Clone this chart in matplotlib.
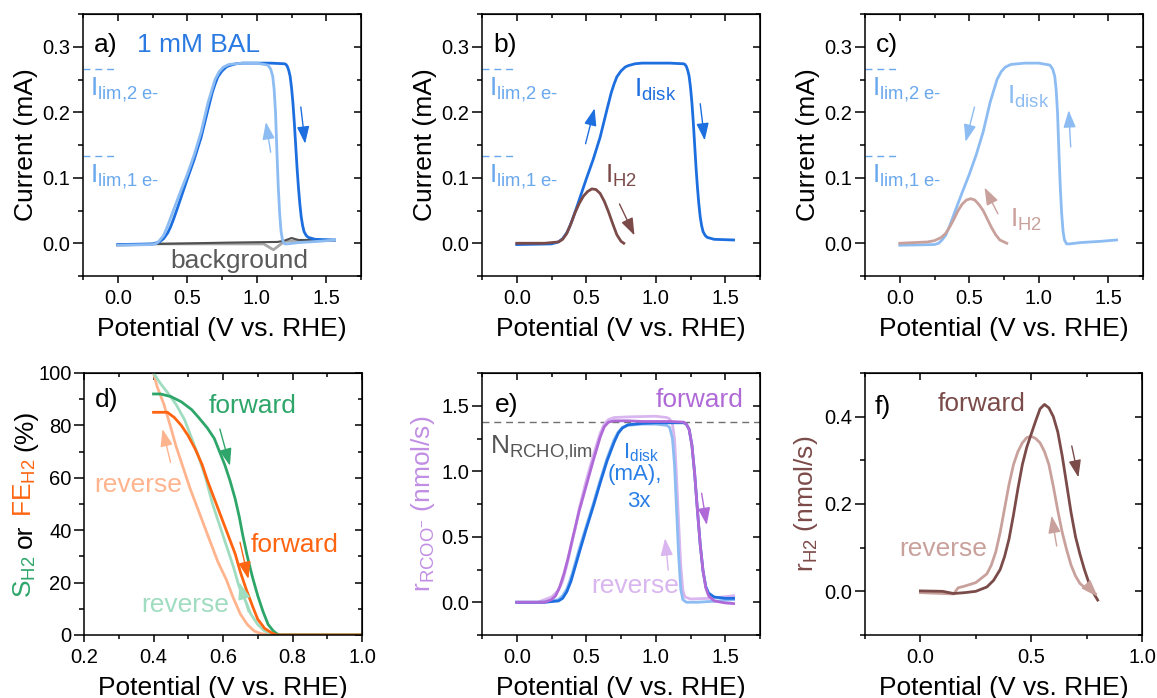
import matplotlib
matplotlib.use("Agg")
import matplotlib.pyplot as plt
from matplotlib.ticker import MultipleLocator

plt.rcParams["font.family"] = ["Liberation Sans", "DejaVu Sans"]
plt.rcParams["mathtext.fontset"] = "custom"
plt.rcParams["mathtext.rm"] = "Liberation Sans"
plt.rcParams["mathtext.it"] = "Liberation Sans:italic"
plt.rcParams["mathtext.bf"] = "Liberation Sans:bold"

# ---- data ----
# disk current, forward scan (panels a, b)
v_disk_fwd = [0.0, 0.25, 0.3, 0.33, 0.36, 0.38, 0.40, 0.43, 0.46, 0.5, 0.55, 0.6, 0.65, 0.68,
              0.7, 0.72, 0.75, 0.78, 0.8, 0.85, 0.9, 1.0, 1.1, 1.2, 1.21, 1.22, 1.23, 1.24,
              1.25, 1.26, 1.27, 1.28, 1.29, 1.30, 1.31, 1.32, 1.33, 1.34, 1.355, 1.37, 1.42,
              1.56]
i_disk_fwd = [-0.002, -0.001, 0.002, 0.007, 0.016, 0.025, 0.036, 0.054, 0.073, 0.098, 0.128,
              0.162, 0.205, 0.23, 0.243, 0.254, 0.263, 0.269, 0.271, 0.274, 0.275, 0.275,
              0.275, 0.274, 0.273, 0.27, 0.264, 0.255, 0.238, 0.215, 0.185, 0.15, 0.115,
              0.085, 0.06, 0.04, 0.027, 0.018, 0.012, 0.009, 0.006, 0.005]
# disk current, reverse scan (panels a, c)
v_disk_rev = [0.0, 0.25, 0.28, 0.3, 0.33, 0.36, 0.4, 0.45, 0.5, 0.55, 0.6, 0.65, 0.7, 0.73,
              0.76, 0.8, 0.9, 1.0, 1.08, 1.10, 1.115, 1.125, 1.135, 1.145, 1.155, 1.165,
              1.175, 1.185, 1.2, 1.22, 1.3, 1.45, 1.56]
i_disk_rev = [-0.003, -0.002, 0.0, 0.004, 0.012, 0.027, 0.05, 0.078, 0.105, 0.135, 0.17,
              0.215, 0.25, 0.262, 0.269, 0.273, 0.275, 0.275, 0.272, 0.266, 0.255, 0.235,
              0.2, 0.14, 0.085, 0.045, 0.018, 0.005, -0.001, -0.001, 0.001, 0.003, 0.005]
# background scans (panel a)
v_bg_fwd = [0.0, 0.3, 0.8, 1.15, 1.2, 1.25, 1.3, 1.56]
i_bg_fwd = [-0.002, -0.001, 0.001, 0.002, 0.004, 0.008, 0.005, 0.005]
v_bg_rev = [0.0, 0.3, 1.05, 1.12, 1.2, 1.3, 1.56]
i_bg_rev = [-0.003, -0.001, -0.001, -0.01, 0.003, 0.004, 0.004]
i_lim_2e = 0.266
i_lim_1e = 0.133

# H2 current (panels b, c)
v_h2_fwd = [0.0, 0.2, 0.3, 0.33, 0.36, 0.39, 0.42, 0.45, 0.48, 0.51, 0.54, 0.57, 0.6, 0.63,
            0.66, 0.69, 0.72, 0.75, 0.77]
i_h2_fwd = [0.0, 0.0, 0.002, 0.006, 0.015, 0.03, 0.047, 0.061, 0.072, 0.079, 0.083, 0.082,
            0.076, 0.064, 0.048, 0.03, 0.013, 0.003, 0.0]
v_h2_rev = [0.0, 0.2, 0.25, 0.3, 0.33, 0.36, 0.39, 0.42, 0.45, 0.48, 0.51, 0.54, 0.57, 0.6,
            0.63, 0.66, 0.69, 0.72, 0.77]
i_h2_rev = [0.0, 0.002, 0.004, 0.009, 0.015, 0.025, 0.037, 0.05, 0.06, 0.066, 0.068, 0.066,
            0.059, 0.05, 0.037, 0.024, 0.013, 0.005, 0.0]

# panel d: selectivity / faradaic efficiency (%)
v_s_fwd = [0.40, 0.42, 0.45, 0.48, 0.51, 0.53, 0.555, 0.575, 0.59, 0.605, 0.62, 0.635, 0.647,
           0.657, 0.67, 0.685, 0.70, 0.715, 0.73, 0.745, 0.76, 1.0]
s_fwd = [92, 92, 91, 89, 86, 83, 79, 75, 70, 65, 59, 52, 45, 38, 30, 22, 15, 9, 4, 1.5, 0, 0]
v_s_rev = [0.40, 0.42, 0.44, 0.465, 0.49, 0.51, 0.53, 0.55, 0.57, 0.59, 0.61, 0.63, 0.645,
           0.665, 0.68, 0.70, 0.72, 0.75, 1.0]
s_rev = [100, 96, 92.6, 88, 82, 75, 68, 60, 50, 42, 34, 26, 19, 13, 8, 4, 1.5, 0, 0]
v_fe_fwd = [0.40, 0.44, 0.46, 0.48, 0.50, 0.52, 0.54, 0.555, 0.575, 0.595, 0.615, 0.635,
            0.65, 0.668, 0.685, 0.70, 0.72, 0.74, 0.755, 1.0]
fe_fwd = [85, 85, 83, 80, 76, 71, 65, 59, 52, 45, 38, 31, 24, 17, 11, 6, 2.5, 0.8, 0, 0]
v_fe_rev = [0.40, 0.41, 0.43, 0.448, 0.465, 0.485, 0.505, 0.525, 0.545, 0.565, 0.585, 0.61,
            0.63, 0.65, 0.67, 0.69, 0.71, 0.74, 1.0]
fe_rev = [100, 95, 88, 80, 72, 64, 56, 49, 42, 35, 28, 21, 14, 8, 4, 1.5, 0.5, 0, 0]

# panel e: carboxylate rate and scaled disk current
v_e_disk_fwd = [0.0, 0.2, 0.3, 0.33, 0.36, 0.39, 0.42, 0.45, 0.5, 0.55, 0.6, 0.65, 0.7, 0.73,
                0.76, 0.8, 0.9, 1.0, 1.1, 1.2, 1.22, 1.24, 1.26, 1.28, 1.30, 1.32, 1.34,
                1.36, 1.38, 1.42, 1.5, 1.56]
e_disk_fwd = [0.0, 0.0, 0.01, 0.03, 0.08, 0.16, 0.27, 0.38, 0.56, 0.73, 0.91, 1.08, 1.22,
              1.29, 1.33, 1.355, 1.365, 1.37, 1.37, 1.37, 1.36, 1.32, 1.2, 0.98, 0.7, 0.44,
              0.24, 0.12, 0.07, 0.04, 0.03, 0.03]
v_e_rcoo_fwd = [0.0, 0.2, 0.25, 0.28, 0.31, 0.34, 0.37, 0.40, 0.45, 0.5, 0.55, 0.6, 0.63,
                0.66, 0.7, 0.8, 0.9, 1.0, 1.1, 1.2, 1.22, 1.24, 1.26, 1.28, 1.30, 1.32, 1.34,
                1.36, 1.38, 1.42, 1.5, 1.56]
e_rcoo_fwd = [0.0, 0.0, 0.02, 0.05, 0.12, 0.22, 0.34, 0.48, 0.7, 0.89, 1.08, 1.26, 1.34,
              1.375, 1.385, 1.385, 1.38, 1.38, 1.38, 1.375, 1.36, 1.32, 1.2, 0.98, 0.7, 0.44,
              0.24, 0.11, 0.05, 0.01, -0.005, -0.01]
v_e_rcoo_rev = [0.0, 0.15, 0.2, 0.25, 0.3, 0.33, 0.36, 0.39, 0.42, 0.45, 0.5, 0.55, 0.6,
                0.63, 0.66, 0.7, 0.8, 1.0, 1.08, 1.1, 1.12, 1.135, 1.15, 1.165, 1.18, 1.195,
                1.21, 1.25, 1.4, 1.56]
e_rcoo_rev = [0.0, 0.0, 0.02, 0.04, 0.09, 0.16, 0.28, 0.42, 0.56, 0.72, 0.93, 1.12, 1.29,
              1.36, 1.395, 1.41, 1.415, 1.42, 1.41, 1.40, 1.36, 1.25, 0.95, 0.6, 0.28, 0.09,
              0.04, 0.025, 0.03, 0.05]
v_e_disk_rev = [0.0, 0.2, 0.3, 0.33, 0.36, 0.4, 0.45, 0.5, 0.55, 0.6, 0.65, 0.7, 0.73, 0.76,
                0.8, 0.9, 1.0, 1.08, 1.10, 1.12, 1.135, 1.15, 1.165, 1.18, 1.195, 1.22, 1.3,
                1.45, 1.56]
e_disk_rev = [0.0, 0.0, 0.02, 0.05, 0.1, 0.22, 0.41, 0.58, 0.75, 0.93, 1.1, 1.24, 1.3, 1.335,
              1.35, 1.36, 1.36, 1.35, 1.335, 1.25, 1.05, 0.7, 0.35, 0.1, 0.02, 0.0, 0.0,
              0.01, 0.02]
n_rcho_lim = 1.373

# panel f: H2 rate
v_rh2_fwd = [0.0, 0.1, 0.15, 0.2, 0.25, 0.3, 0.33, 0.36, 0.38, 0.40, 0.42, 0.44, 0.46, 0.48,
             0.50, 0.52, 0.54, 0.56, 0.58, 0.60, 0.62, 0.64, 0.66, 0.68, 0.70, 0.72, 0.74,
             0.76, 0.78, 0.80]
r_h2_fwd = [0.001, 0.0, -0.005, -0.003, 0.0, 0.01, 0.025, 0.05, 0.08, 0.12, 0.175, 0.235,
            0.29, 0.33, 0.36, 0.39, 0.418, 0.428, 0.42, 0.40, 0.365, 0.31, 0.245, 0.18,
            0.125, 0.085, 0.05, 0.02, -0.003, -0.02]
v_rh2_rev = [0.0, 0.15, 0.17, 0.2, 0.25, 0.3, 0.32, 0.34, 0.36, 0.38, 0.40, 0.42, 0.44, 0.46,
             0.48, 0.50, 0.52, 0.54, 0.56, 0.58, 0.60, 0.62, 0.64, 0.66, 0.68, 0.70, 0.72,
             0.75, 0.79]
r_h2_rev = [-0.003, -0.006, 0.008, 0.012, 0.02, 0.04, 0.06, 0.09, 0.135, 0.19, 0.245, 0.29,
            0.32, 0.34, 0.352, 0.355, 0.35, 0.34, 0.32, 0.29, 0.24, 0.185, 0.135, 0.095,
            0.06, 0.035, 0.018, 0.005, -0.006]

# colours
DARK_BLUE = "#1d6fe0"
LIGHT_BLUE = "#8cbcf2"
LIM_BLUE = "#6aa8ee"
DARK_BROWN = "#7b4b49"
LIGHT_BROWN = "#c9a19c"
GREEN = "#2ea66a"
LIGHT_GREEN = "#a0dcc0"
ORANGE = "#ff6511"
LIGHT_ORANGE = "#ffb48e"
PURPLE = "#b06ad8"
LIGHT_PURPLE = "#d9b6ef"
LABEL_PURPLE = "#c18ee3"
E_BLUE = "#2a7fe6"

FS = 19
TFS = 14.5
LW = 2.0

W, H = 1157, 698
fig = plt.figure(figsize=(W / 100, H / 100), dpi=100)


def make_axes(px_left, px_top, px_right, px_bottom):
    return fig.add_axes([px_left / W, 1 - px_bottom / H,
                         (px_right - px_left) / W, (px_bottom - px_top) / H])


def style(ax, xlim, ylim, xmaj, xmin, ymaj, ymin, xfmt="{:.1f}", yfmt="{:.1f}"):
    ax.set_xlim(*xlim)
    ax.set_ylim(*ylim)
    ax.xaxis.set_major_locator(MultipleLocator(xmaj))
    ax.xaxis.set_minor_locator(MultipleLocator(xmin))
    ax.yaxis.set_major_locator(MultipleLocator(ymaj))
    ax.yaxis.set_minor_locator(MultipleLocator(ymin))
    ax.xaxis.set_major_formatter(plt.FuncFormatter(lambda v, p: xfmt.format(v)))
    ax.yaxis.set_major_formatter(plt.FuncFormatter(lambda v, p: yfmt.format(v)))
    for s in ax.spines.values():
        s.set_linewidth(1.1)
    ax.tick_params(which="both", direction="out", top=False, right=False,
                   labelsize=TFS, width=1.1)
    ax.tick_params(axis="y", which="major", length=7.5, pad=1.5)
    ax.tick_params(axis="y", which="minor", length=3.5)
    ax.tick_params(axis="x", which="major", length=5, pad=4.5)
    ax.tick_params(axis="x", which="minor", length=3)
    top = ax.secondary_xaxis("top")
    top.xaxis.set_major_locator(MultipleLocator(xmaj))
    top.xaxis.set_minor_locator(MultipleLocator(xmin))
    top.tick_params(which="both", direction="in", labeltop=False, width=1.1)
    top.tick_params(which="major", length=5)
    top.tick_params(which="minor", length=3)
    right = ax.secondary_yaxis("right")
    right.yaxis.set_major_locator(MultipleLocator(ymaj))
    right.yaxis.set_minor_locator(MultipleLocator(ymin))
    right.tick_params(which="both", direction="in", labelright=False, width=1.1)
    right.tick_params(which="major", length=5)
    right.tick_params(which="minor", length=3)
    ax.set_xlabel("Potential (V vs. RHE)", fontsize=FS, labelpad=6)


def arrow(ax, start, end, color):
    ax.annotate("", xy=end, xytext=start,
                arrowprops=dict(arrowstyle="-|>,head_length=0.75,head_width=0.27",
                                color=color, lw=1.0, mutation_scale=14,
                                shrinkA=0, shrinkB=0))


def lim_lines(ax):
    for yv, lab in ((i_lim_2e, r"I$_{\text{lim,2 e-}}$"),
                    (i_lim_1e, r"I$_{\text{lim,1 e-}}$")):
        ax.plot([-0.25, 0.0], [yv, yv], ls=(0, (5, 3.5)), lw=1.0, color=LIM_BLUE)
        ax.text(-0.2, yv - 0.04, lab, color=LIM_BLUE, fontsize=FS, va="baseline")


def current_panel(px_left, letter):
    ax = make_axes(px_left, 14, px_left + 278, 276)
    style(ax, (-0.25, 1.75), (-0.05, 0.35), 0.5, 0.25, 0.1, 0.05)
    ax.set_ylabel("Current (mA)", fontsize=FS, labelpad=3)
    lim_lines(ax)
    ax.text(-0.17, 0.292, letter, fontsize=FS, va="baseline")
    return ax


# ---- a) ----
ax = current_panel(83, "a)")
ax.plot(v_bg_rev, i_bg_rev, color="#a8a8a8", lw=LW)
ax.plot(v_bg_fwd, i_bg_fwd, color="#505050", lw=1.5)
ax.plot(v_disk_fwd, i_disk_fwd, color=DARK_BLUE, lw=LW)
ax.plot(v_disk_rev, i_disk_rev, color=LIGHT_BLUE, lw=LW)
ax.text(0.136, 0.292, "1 mM BAL", color="#2a7ae2", fontsize=FS, va="baseline")
ax.text(0.875, -0.038, "background", color="#5a5a5a", fontsize=FS, ha="center",
        va="baseline")
arrow(ax, (1.317, 0.208), (1.348, 0.152), DARK_BLUE)
arrow(ax, (1.10, 0.139), (1.066, 0.185), LIGHT_BLUE)

# ---- b) ----
ax = current_panel(482, "b)")
ax.plot(v_disk_fwd, i_disk_fwd, color=DARK_BLUE, lw=LW)
ax.plot(v_h2_fwd, i_h2_fwd, color=DARK_BROWN, lw=LW)
ax.text(0.847, 0.223, r"I$_{\text{disk}}$", color=DARK_BLUE, fontsize=FS, va="baseline")
ax.text(0.632, 0.093, r"I$_{\text{H2}}$", color=DARK_BROWN, fontsize=FS, va="baseline")
arrow(ax, (0.495, 0.152), (0.56, 0.206), DARK_BLUE)
arrow(ax, (1.32, 0.213), (1.352, 0.157), DARK_BLUE)
arrow(ax, (0.739, 0.060), (0.847, 0.012), DARK_BROWN)

# ---- c) ----
ax = current_panel(865, "c)")
ax.plot(v_disk_rev, i_disk_rev, color=LIGHT_BLUE, lw=LW)
ax.plot(v_h2_rev, i_h2_rev, color=LIGHT_BROWN, lw=LW)
ax.text(0.775, 0.213, r"I$_{\text{disk}}$", color=LIGHT_BLUE, fontsize=FS, va="baseline")
ax.text(0.79, 0.025, r"I$_{\text{H2}}$", color=LIGHT_BROWN, fontsize=FS, va="baseline")
arrow(ax, (0.538, 0.208), (0.474, 0.155), LIGHT_BLUE)
arrow(ax, (1.23, 0.147), (1.215, 0.203), LIGHT_BLUE)
arrow(ax, (0.706, 0.045), (0.61, 0.085), LIGHT_BROWN)

# ---- d) ----
ax = make_axes(84, 373, 362, 635)
style(ax, (0.2, 1.0), (0, 100), 0.2, 0.1, 20, 10, yfmt="{:.0f}")
ax.plot(v_fe_rev, fe_rev, color=LIGHT_ORANGE, lw=LW)
ax.plot(v_s_rev, s_rev, color=LIGHT_GREEN, lw=LW)
ax.plot(v_s_fwd, s_fwd, color=GREEN, lw=LW)
ax.plot(v_fe_fwd, fe_fwd, color=ORANGE, lw=LW)
ax.text(0.232, 87, "d)", fontsize=FS, va="baseline")
ax.text(0.686, 84.7, "forward", color=GREEN, fontsize=FS, ha="center", va="baseline")
ax.text(0.807, 31.8, "forward", color=ORANGE, fontsize=FS, ha="center", va="baseline")
ax.text(0.356, 54.7, "reverse", color=LIGHT_ORANGE, fontsize=FS, ha="center", va="baseline")
ax.text(0.491, 8.7, "reverse", color=LIGHT_GREEN, fontsize=FS, ha="center", va="baseline")
arrow(ax, (0.591, 78.6), (0.62, 64.6), GREEN)
arrow(ax, (0.649, 35.4), (0.673, 21.4), ORANGE)
arrow(ax, (0.449, 65.9), (0.426, 78.6), LIGHT_ORANGE)
arrow(ax, (0.673, 8.7), (0.647, 20.1), LIGHT_GREEN)

# multi-coloured y label, stacked along the baseline
parts = [(r"S$_{\text{H2}}$", GREEN), ("or", "black"),
         (r"FE$_{\text{H2}}$", ORANGE), ("(%)", "black")]
renderer = fig.canvas.get_renderer()
texts = [fig.text(32 / W, 0, s, color=c, fontsize=FS, rotation=90,
                  rotation_mode="anchor", ha="left", va="baseline") for s, c in parts]
sizes = [t.get_window_extent(renderer).height for t in texts]
gap = 0.28 * FS * 100 / 72
y = (H - 504) - (sum(sizes) + gap * (len(sizes) - 1)) / 2
for t, sz in zip(texts, sizes):
    t.set_position((32 / W, y / H))
    y += sz + gap

# ---- e) ----
ax = make_axes(482, 373, 760, 635)
style(ax, (-0.25, 1.75), (-0.25, 1.75), 0.5, 0.25, 0.5, 0.25)
ax.axhline(n_rcho_lim, color="#707070", lw=1.0, ls=(0, (5, 3.5)))
ax.plot(v_e_rcoo_rev, e_rcoo_rev, color=LIGHT_PURPLE, lw=LW)
ax.plot(v_e_disk_rev, e_disk_rev, color=LIGHT_BLUE, lw=LW)
ax.plot(v_e_disk_fwd, e_disk_fwd, color=DARK_BLUE, lw=LW)
ax.plot(v_e_rcoo_fwd, e_rcoo_fwd, color=PURPLE, lw=LW)
ax.set_ylabel(r"r$_{\text{RCOO}^{-}}$ (nmol/s)", fontsize=FS, color=LABEL_PURPLE,
              labelpad=3)
ax.text(-0.156, 1.455, "e)", fontsize=FS, va="baseline")
ax.text(1.313, 1.493, "forward", color=PURPLE, fontsize=FS, ha="center", va="baseline")
ax.text(0.851, 0.07, "reverse", color=LIGHT_PURPLE, fontsize=FS, ha="center", va="baseline")
ax.text(-0.192, 1.137, r"N$_{\text{RCHO,lim}}$", color="#555555", fontsize=FS,
        va="baseline")
ax.text(0.762, 1.099, r"I$_{\text{disk}}$", color=E_BLUE, fontsize=16, va="baseline")
ax.text(0.846, 0.933, "(mA),", color=E_BLUE, fontsize=16, ha="center", va="baseline")
ax.text(0.875, 0.73, "3x", color=E_BLUE, fontsize=16, ha="center", va="baseline")
arrow(ax, (1.33, 0.832), (1.367, 0.59), PURPLE)
arrow(ax, (1.09, 0.246), (1.067, 0.488), LIGHT_PURPLE)

# ---- f) ----
ax = make_axes(865, 373, 1142, 635)
style(ax, (-0.25, 1.0), (-0.1, 0.5), 0.5, 0.25, 0.2, 0.1)
ax.plot(v_rh2_rev, r_h2_rev, color=LIGHT_BROWN, lw=LW)
ax.plot(v_rh2_fwd, r_h2_fwd, color=DARK_BROWN, lw=LW)
ax.set_ylabel(r"r$_{\text{H2}}$ (nmol/s)", fontsize=FS, color=DARK_BROWN, labelpad=3)
ax.text(-0.205, 0.406, "f)", fontsize=FS, va="baseline")
ax.text(0.277, 0.414, "forward", color=DARK_BROWN, fontsize=FS, ha="center", va="baseline")
ax.text(0.103, 0.0816, "reverse", color=LIGHT_BROWN, fontsize=FS, ha="center",
        va="baseline")
arrow(ax, (0.683, 0.333), (0.713, 0.261), DARK_BROWN)
arrow(ax, (0.615, 0.104), (0.592, 0.173), LIGHT_BROWN)
arrow(ax, (0.77, 0.004), (0.8, -0.012), LIGHT_BROWN)

fig.savefig("out.png", dpi=100)
